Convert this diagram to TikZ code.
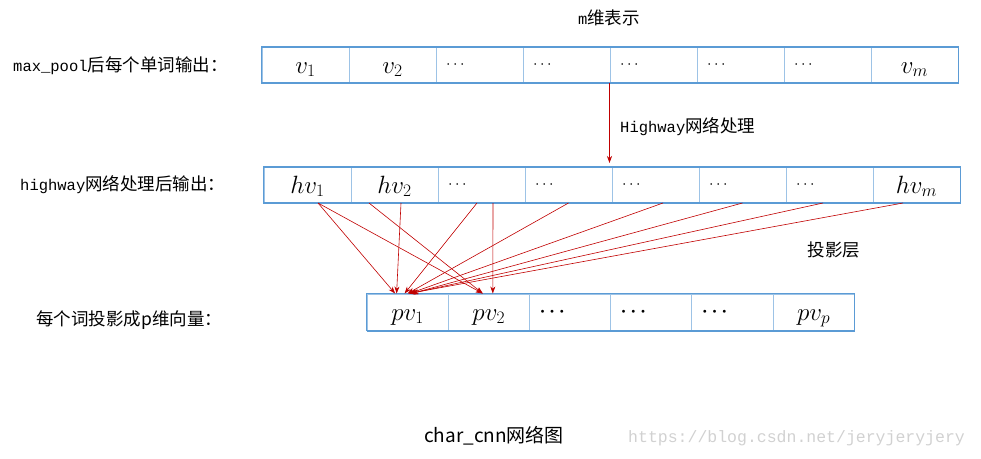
\documentclass[tikz,border=0pt]{standalone}
\usepackage{fix-cm}
\usepackage{amsmath}
\usepackage{fontspec}
\newfontfamily\cjk{Noto Sans CJK SC}
\newfontfamily\mono{Liberation Mono}
\usetikzlibrary{arrows.meta}
\definecolor{cellblue}{RGB}{91,155,213}
\definecolor{celllight}{RGB}{157,195,230}
\definecolor{arrowred}{RGB}{192,0,0}
\newcommand\latin[1]{{\fontsize{15.5}{20}\selectfont\mono #1}}
\newcommand\sdots{{\fontsize{16}{18}\selectfont$\cdots$}}
\newcommand\bdots{{\fontsize{19}{22}\selectfont$\boldsymbol{\cdots}$}}

\begin{document}
\begin{tikzpicture}[x=1pt, y=-1pt, >={Stealth[length=7pt, width=5pt]},
  cell/.style={draw=celllight, line width=1pt, inner sep=0pt, font=\fontsize{25}{30}\selectfont},
  mathcell/.style={text width=60pt, align=center, text height=20pt, text depth=4pt},
  dotcell/.style={text width=67pt, align=left},
  pdotcell/.style={text width=61pt, align=left},
  rowframe/.style={draw=cellblue, line width=1.2pt},
  txt/.style={font=\fontsize{17.5}{21}\selectfont\cjk, inner sep=0pt},
  proj/.style={arrowred, line width=0.6pt, ->}]
  \useasboundingbox (0,0) rectangle (981,458);

  % max_pool output
  \foreach \t/\s [count=\i] in {$v_1$/mathcell, $v_2$/mathcell, \sdots/dotcell, \sdots/dotcell,
      \sdots/dotcell, \sdots/dotcell, \sdots/dotcell, $v_m$/mathcell}
    \node[cell, \s, minimum width=87pt, minimum height=35pt] (v\i) at ({262+87*\i-43.5}, 65) {\t};
  \draw[rowframe] (v1.north west) rectangle (v8.south east);
  \draw[rowframe, line width=2pt] (v1.south west) -- (v8.south east);

  % highway output
  \foreach \t/\s [count=\i] in {$hv_1$/mathcell, $hv_2$/mathcell, \sdots/dotcell, \sdots/dotcell,
      \sdots/dotcell, \sdots/dotcell, \sdots/dotcell, $hv_m$/mathcell}
    \node[cell, \s, minimum width=87pt, minimum height=35pt] (hv\i) at ({264+87*\i-43.5}, 185) {\t};
  \draw[rowframe] (hv1.north west) rectangle (hv8.south east);
  \draw[rowframe, line width=2pt] (hv1.south west) -- (hv8.south east);

  % projection
  \foreach \t/\s [count=\i] in {$pv_1$/mathcell, $pv_2$/mathcell, \bdots/pdotcell, \bdots/pdotcell,
      \bdots/pdotcell, $pv_p$/mathcell}
    \node[cell, \s, minimum width=81.2pt, minimum height=36pt] (pv\i) at ({367+81.2*\i-40.6}, 312) {\t};
  \draw[rowframe] (pv1.north west) rectangle (pv6.south east);
  \draw[rowframe, line width=2pt] (pv1.south west) -- (pv6.south east);

  \draw[arrowred, line width=0.6pt, ->, shorten >=4pt] (v5.south west) -- (v5.south west |- hv5.north);
  \foreach \a/\da/\b/\db in {1/10.5/1/-12.5, 1/10.5/2/-6, 2/-25.5/2/-6, 2/6.5/1/-11,
      3/-4.5/1/-3, 3/11.5/2/4, 4/0/1/0, 5/7.5/1/2, 6/0/1/4, 7/-6.5/1/3, 8/-13.5/1/1}
    \draw[proj] ([xshift=\da pt]hv\a.south) -- ([xshift=\db pt]pv\b.north);

  \node[txt] (mdim) at (609,18) {\latin{m}维表示};
  \node[txt, anchor=west] (hwlbl) at (620,127) {\latin{Highway}网络处理};
  \node[txt, anchor=west] (poollbl) at (13,66) {\latin{max\_pool}后每个单词输出：};
  \node[txt, anchor=west] (hwout) at (20,185) {\latin{highway}网络处理后输出：};
  \node[txt, anchor=west] (projout) at (36,320) {每个词投影成p维向量：};
  \node[txt] (projlayer) at (834,250) {投影层};
  \node[txt, font=\fontsize{19}{22}\selectfont\cjk] (title) at (494,436) {char\_cnn网络图};
  \node[font=\fontsize{16.5}{20}\selectfont\mono, text=black!18, anchor=west, inner sep=0pt] (mark) at (628,438) {https://blog.csdn.net/jeryjeryjery};
\end{tikzpicture}
\end{document}
